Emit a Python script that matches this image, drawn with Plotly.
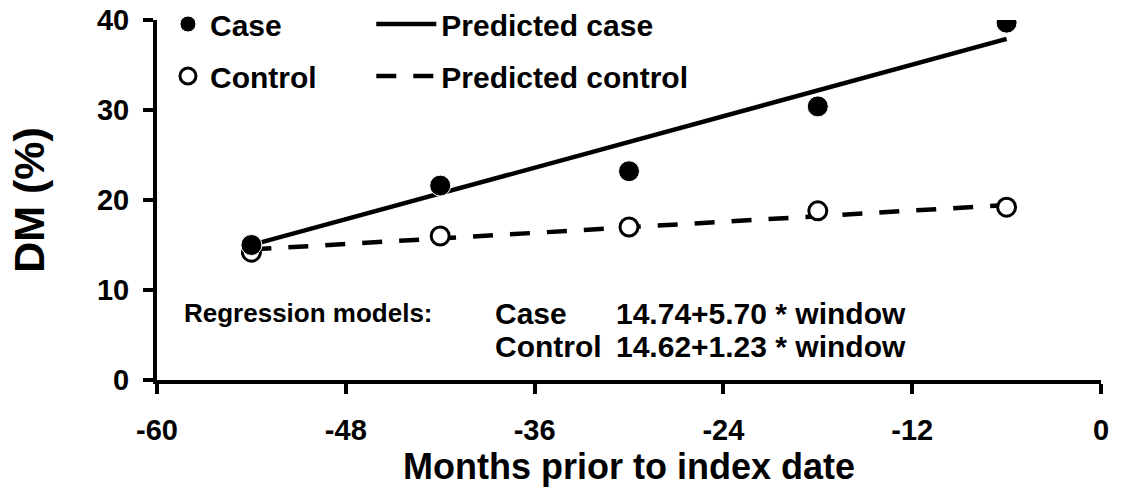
import plotly.graph_objects as go

# ---- data ----
months = [-54, -42, -30, -18, -6]
case_pct = [15.0, 21.6, 23.2, 30.4, 39.7]
control_pct = [14.2, 16.0, 17.0, 18.8, 19.2]
pred_case = [15.0, 20.7, 26.5, 32.2, 37.9]
pred_control = [14.5, 15.7, 16.95, 18.2, 19.45]

x_ticks = [-60, -48, -36, -24, -12, 0]
y_ticks = [0, 10, 20, 30, 40]

model_groups = ["Case", "Control"]
model_formulas = ["14.74+5.70 * window", "14.62+1.23 * window"]

FONT = "Liberation Sans, Arial, sans-serif"

fig = go.Figure()

fig.add_trace(go.Scatter(
    x=months, y=pred_control, mode="lines", name="Predicted control",
    line=dict(color="black", width=4.5, dash="20px,17px"),
    legend="legend2", legendgroup="pc", legendrank=2))
fig.add_trace(go.Scatter(
    x=months, y=pred_case, mode="lines", name="Predicted case",
    line=dict(color="black", width=4.5),
    legend="legend2", legendgroup="pca", legendrank=1))
fig.add_trace(go.Scatter(
    x=months, y=control_pct, mode="markers", name="Control",
    marker=dict(symbol="circle", size=18, color="white",
                line=dict(color="black", width=3)),
    legend="legend", legendgroup="c", legendrank=2))
fig.add_trace(go.Scatter(
    x=months, y=case_pct, mode="markers", name="Case",
    marker=dict(symbol="circle", size=21, color="black",
                line=dict(color="white", width=1)),
    legend="legend", legendgroup="ca", legendrank=1))

axis_common = dict(
    showline=True, linecolor="black", linewidth=4,
    ticks="outside", ticklen=10, tickwidth=4, tickcolor="black",
    showgrid=False, zeroline=False,
    tickfont=dict(family=FONT, size=29, color="black", weight="bold"),
)

# plot area: figure top margin 0, y domain leaves 20 px above the axis
TOTAL_H = 499 - 119  # height of the plotting region (paper)
fig.update_xaxes(
    range=[-60, 0], tickvals=x_ticks, ticktext=[str(v) for v in x_ticks],
    ticklabelstandoff=11,
    title=dict(text="Months prior to index date", standoff=6,
               font=dict(family=FONT, size=36, color="black", weight="bold")),
    **axis_common)
fig.update_yaxes(
    range=[0, 40], tickvals=y_ticks, ticktext=[str(v) for v in y_ticks],
    ticklabelstandoff=8, domain=[0, 360 / TOTAL_H],
    title=dict(text="DM (%)", standoff=40,
               font=dict(family=FONT, size=43, color="black", weight="bold")),
    **axis_common)

legend_common = dict(
    font=dict(family=FONT, size=30, color="black", weight="bold"),
    bgcolor="rgba(0,0,0,0)", borderwidth=0,
    yanchor="top", xanchor="left", tracegroupgap=10,
    orientation="v",
)

legend_top = 1 + 2 / TOTAL_H
fig.update_layout(
    width=1126, height=499,
    margin=dict(l=157, r=25, t=0, b=119, autoexpand=False),
    paper_bgcolor="white", plot_bgcolor="white",
    showlegend=True,
    legend=dict(x=0.0095, y=legend_top, itemsizing="trace", itemwidth=34,
                **legend_common),
    legend2=dict(x=0.227, y=legend_top, itemwidth=60, **legend_common),
)

# regression model text
fig.add_annotation(
    x=-58.41, y=7.4, xref="x", yref="y", text="Regression models:",
    showarrow=False, xanchor="left", yanchor="middle",
    font=dict(family=FONT, size=26, color="black", weight="bold"))
row_y = [7.4, 3.67]
for grp, frm, yy in zip(model_groups, model_formulas, row_y):
    fig.add_annotation(
        x=-38.64, y=yy, xref="x", yref="y", text=grp,
        showarrow=False, xanchor="left", yanchor="middle",
        font=dict(family=FONT, size=30, color="black", weight="bold"))
    fig.add_annotation(
        x=-12.27, y=yy, xref="x", yref="y", text=frm,
        showarrow=False, xanchor="right", yanchor="middle",
        font=dict(family=FONT, size=30, color="black", weight="bold"))

fig.write_html("out.html",
               config={"displayModeBar": False},
               post_script="document.body.style.margin='0px';")
